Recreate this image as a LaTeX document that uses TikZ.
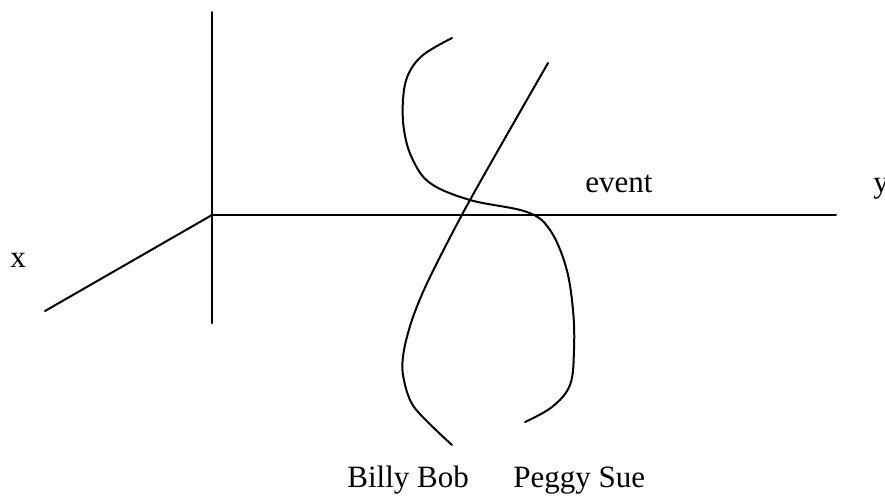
\documentclass[tikz,border=0pt]{standalone}
\usepackage{fontspec}
\setmainfont{Liberation Serif}
\begin{document}
\begin{tikzpicture}[x=0.5pt,y=-0.5pt,
  ln/.style={line width=1pt, line join=round, line cap=round},
  lbl/.style={anchor=base west, inner sep=0pt, font=\fontsize{15.5}{18}\selectfont}]
\useasboundingbox (0,0) rectangle (885,495);
% axes
\coordinate (o) at (212,215);
\coordinate (ztop) at (212,12);
\coordinate (zbot) at (212,323);
\coordinate (yend) at (836,215);
\coordinate (xend) at (45,311);
\draw[ln] (ztop) -- (zbot);
\draw[ln] (o) -- (yend);
\draw[ln] (o) -- (xend);
% world lines
\draw[ln] plot[smooth, tension=0.6] coordinates {(452,38) (423,55) (408,75) (403,100) (404,130) (412,158) (430,183) (470,200) (527,212) (550,230) (566,267) (573,310) (574,350) (570,385) (552,407) (525,422)};
\draw[ln] plot[smooth, tension=0.5] coordinates {(548,63) (470,200) (430,277) (413,317) (404,350) (403,375) (414,407) (452,445)};
% labels
\node[lbl] (xl) at (10,267) {x};
\node[lbl] (yl) at (873,192) {y};
\node[lbl] (ev) at (585,192) {event};
\node[lbl] (bb) at (347,487) {Billy Bob};
\node[lbl] (ps) at (513,487) {Peggy Sue};
\end{tikzpicture}
\end{document}
